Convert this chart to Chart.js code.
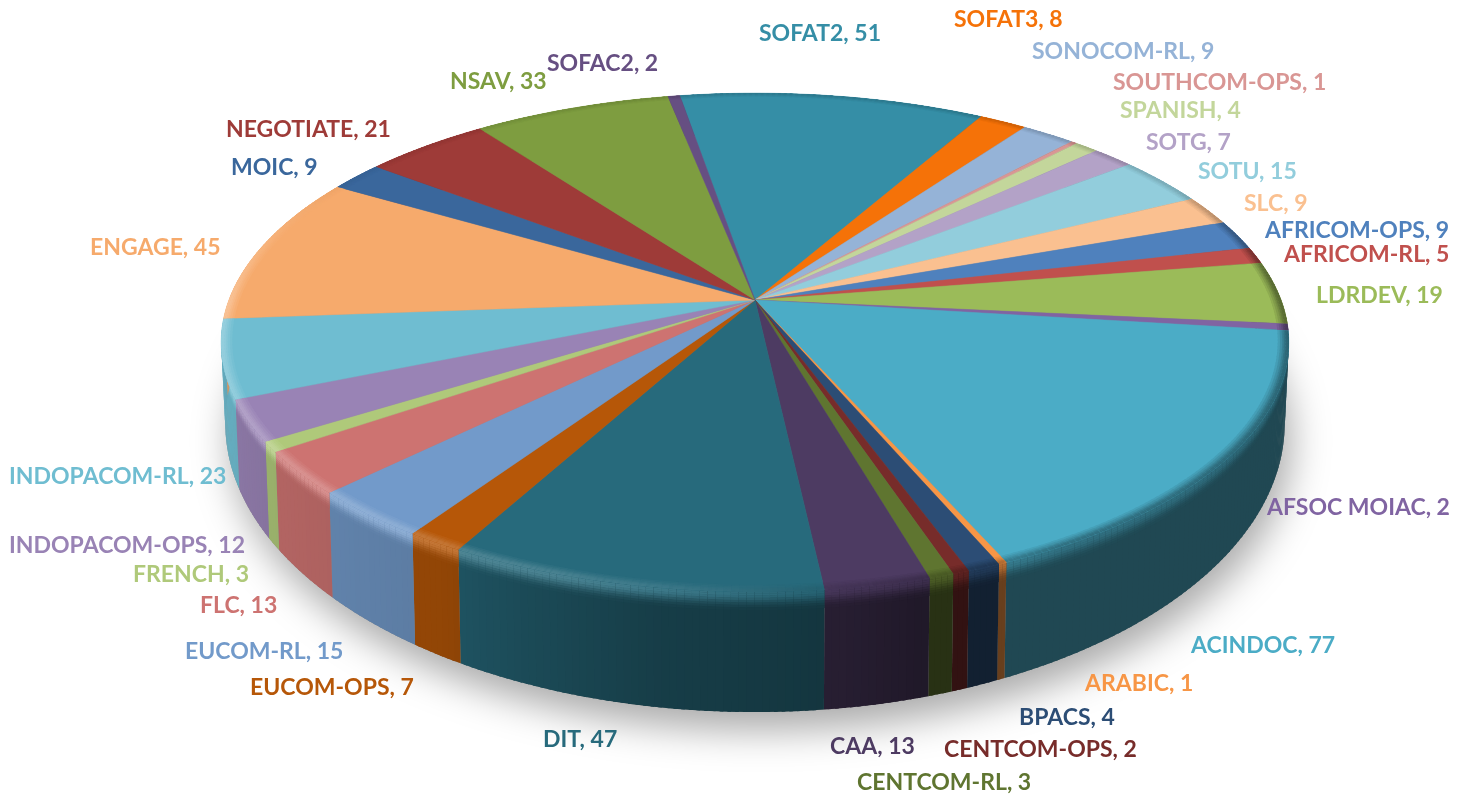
<!DOCTYPE html>
<html>
<head>
<meta charset="utf-8">
<style>html,body{margin:0;padding:0;background:#fff;overflow:hidden}canvas{display:block}</style>
<script src="https://cdn.jsdelivr.net/npm/chart.js@4"></script>
</head>
<body>
<canvas id="c" width="1469" height="797"></canvas>
<script>
const categories = ["SOFAT2","SOFAT3","SONOCOM-RL","SOUTHCOM-OPS","SPANISH","SOTG","SOTU","SLC","AFRICOM-OPS","AFRICOM-RL","LDRDEV","AFSOC MOIAC","ACINDOC","ARABIC","BPACS","CENTCOM-OPS","CENTCOM-RL","CAA","DIT","EUCOM-OPS","EUCOM-RL","FLC","FRENCH","INDOPACOM-OPS","INDOPACOM-RL","ENGAGE","MOIC","NEGOTIATE","NSAV","SOFAC2"];
const values = [51,8,9,1,4,7,15,9,9,5,19,2,77,1,4,2,3,13,47,7,15,13,3,12,23,45,9,21,33,2];
const colors = ["#358EA6","#F57208","#95B3D7","#D99694","#C3D69B","#B3A2C7","#92CDDC","#FAC090","#4F81BD","#C0504D","#9BBB59","#8064A2","#4BACC6","#F79646","#2C4D75","#772C2A","#5F7530","#4D3B62","#276A7C","#B65708","#729ACA","#CD7371","#AFC97A","#9983B5","#6FBDD1","#F6AA6C","#3A679C","#9E3B38","#7E9D40","#664F82"];
const labelLeft = [759,954,1032,1113,1120,1146,1198,1244,1265,1284,1316,1267,1191,1085,1019,944,857,830,543,250,185,200,133,9,9,90,231,226,450,547];
const labelMiddle = [34,20,52,83,111,143,172,204,231,255,296,508,646,684,718,750,783,747,740,688,652,606,575,546,477,248,168,130,82,64];

// projection of the unit disc: z=0 top face, z=1 bottom face
const K = 0.17, CX = 755, D2R = Math.PI/180;
function project(u, v, z) {
  const w = 1 - K * v, R = 526 - 4 * z, A = 242 + 38.6 * z, Y0 = 300 + 74 * z;
  return [CX + R * u / w, Y0 + A * v / w];
}
function hex(c){return [1,3,5].map(i=>parseInt(c.substr(i,2),16));}
function mix(a,b,t){return a.map((x,i)=>x+(b[i]-x)*t);}
function css(c){return `rgb(${c.map(x=>Math.round(x)).join(',')})`;}
function table(t, deg){
  for(let i=1;i<t.length;i++){ if(deg<=t[i][0]){const [a,fa]=t[i-1],[b,fb]=t[i];return fa+(fb-fa)*(deg-a)/(b-a);} }
  return t[t.length-1][1];
}
function degOf(a){return ((a/D2R+90)%360+360)%360;}
const viewWarp  = [[0,0],[170,0],[200,-1.2],[235,-1.4],[265,-.3],[280,0],[360,0]];
const wallShade = [[0,.5],[90,.42],[165,.42],[172,.5],[190,.58],[205,.72],[212,.8],[225,.84],[240,.88],[255,.92],[270,.86],[285,.8],[360,.5]];
const rimDark   = [[0,.3],[60,.3],[85,.75],[150,.6],[175,.2],[190,0],[285,0],[310,.2],[360,.3]];
const rimLight  = [[0,0],[172,0],[200,.16],[230,.22],[270,.28],[285,.1],[300,0],[360,0]];
const black=[0,0,0], white=[255,255,255];
function pt(a,r,z){const b=a+table(viewWarp,degOf(a))*D2R;return project(r*Math.cos(b),r*Math.sin(b),z);}

function quad(ctx,a,b,c,d,col){
  ctx.fillStyle=col;
  ctx.beginPath();ctx.moveTo(a[0],a[1]);ctx.lineTo(b[0],b[1]);ctx.lineTo(c[0],c[1]);ctx.lineTo(d[0],d[1]);ctx.closePath();ctx.fill();
}
function forArc(arc,fn){
  const s=arc.startAngle,e=arc.endAngle,n=Math.max(1,Math.ceil((e-s)/(0.75*D2R)));
  const over=0.35*D2R;
  for(let i=0;i<n;i++){fn(s+(e-s)*i/n,s+(e-s)*(i+1)/n+over*(i<n-1?1:0));}
}
// smooth shoulder: rim highlight fades into the wall (z) and into the face (r)
const wallProf=[[0,1],[.015,1],[.03,.9],[.05,.72],[.07,.5],[.09,.3],[.11,.14],[.13,.04],[.15,0]];
const faceProf=[[.98,0],[.984,.2],[.988,.4],[.991,.6],[.994,.8],[.997,.95],[1,1]];
const pie3d = {
  id:'pie3d',
  beforeDatasetsDraw(chart){
    const ctx=chart.ctx, arcs=chart.getDatasetMeta(0).data;
    // soft ground shadow
    ctx.save();
    ctx.shadowColor='rgba(0,0,0,.34)';ctx.shadowBlur=38;ctx.shadowOffsetY=18;ctx.shadowOffsetX=6;
    ctx.fillStyle='#888';ctx.beginPath();
    for(let d=0;d<360;d+=2){const p=project(Math.cos(d*D2R),Math.sin(d*D2R),1);d?ctx.lineTo(p[0],p[1]):ctx.moveTo(p[0],p[1]);}
    ctx.closePath();ctx.fill();ctx.restore();
    const rimOf=(top,deg)=>{const wall=mix(black,top,table(wallShade,deg));return {wall,rim:mix(mix(top,wall,table(rimDark,deg)),white,table(rimLight,deg))};};
    // walls with shoulder
    arcs.forEach((arc,i)=>{
      const top=hex(colors[i]);
      forArc(arc,(a0,a1)=>{
        const deg=degOf((a0+a1)/2), {wall,rim}=rimOf(top,deg);
        quad(ctx,pt(a0,1,0),pt(a1,1,0),pt(a1,1,1),pt(a0,1,1),css(wall));
        for(let k=0;k<wallProf.length-1;k++){
          const A=wallProf[k],B=wallProf[k+1];
          quad(ctx,pt(a0,1,A[0]),pt(a1,1,A[0]),pt(a1,1,B[0]+.004),pt(a0,1,B[0]+.004),css(mix(wall,rim,A[1])));
        }
      });
    });
    // top faces
    arcs.forEach((arc,i)=>{
      const col=colors[i];
      ctx.fillStyle=col;ctx.strokeStyle=col;ctx.lineWidth=.5;
      ctx.beginPath();ctx.moveTo(CX,300);
      const n=Math.max(2,Math.ceil((arc.endAngle-arc.startAngle)/(0.5*D2R)));
      for(let j=0;j<=n;j++){const a=arc.startAngle+(arc.endAngle-arc.startAngle)*j/n,p=pt(a,1,0);ctx.lineTo(p[0],p[1]);}
      ctx.closePath();ctx.fill();ctx.stroke();
    });
    // rim on the face
    arcs.forEach((arc,i)=>{
      const top=hex(colors[i]);
      forArc(arc,(a0,a1)=>{
        const deg=degOf((a0+a1)/2), {rim}=rimOf(top,deg);
        for(let k=0;k<faceProf.length-1;k++){
          const A=faceProf[k],B=faceProf[k+1];
          quad(ctx,pt(a0,A[0],0),pt(a1,A[0],0),pt(a1,B[0]+.0005,0),pt(a0,B[0]+.0005,0),css(mix(top,rim,B[1])));
        }
      });
    });
    return false;
  },
  afterDraw(chart){
    const ctx=chart.ctx;
    ctx.save();
    ctx.font='bold 23px Lato';ctx.textBaseline='middle';ctx.textAlign='left';
    categories.forEach((c,i)=>{ctx.fillStyle=colors[i];ctx.fillText(c+', '+values[i],labelLeft[i],labelMiddle[i]);});
    ctx.restore();
  }
};
new Chart(document.getElementById('c'),{
  type:'pie',
  data:{labels:categories,datasets:[{data:values,backgroundColor:colors,borderWidth:0}]},
  options:{responsive:false,animation:false,rotation:-9.6,plugins:{legend:{display:false},tooltip:{enabled:false}}},
  plugins:[pie3d]
});
</script>
</body>
</html>
